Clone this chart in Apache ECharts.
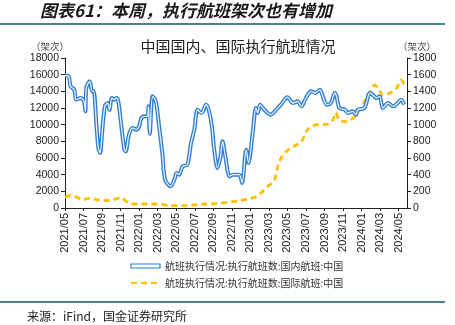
<!DOCTYPE html>
<html>
<head>
<meta charset="utf-8">
<script src="https://cdn.jsdelivr.net/npm/echarts@6/dist/echarts.min.js"></script>
<style>
html,body{margin:0;padding:0;background:#fff;}
#c{width:455px;height:325px;}
</style>
</head>
<body>
<div id="c"></div>
<script>
// months since 2021/05 (x positions) and values
var startYear = 2021, startMonth = 5;
var domesticMonths = [0,0.4,0.6,1.0,1.2,1.7,2.05,2.2,2.3,2.65,2.95,3.1,3.4,3.6,3.8,4.0,4.3,4.6,4.8,5.05,5.3,5.55,5.75,6.0,6.4,6.55,6.9,7.3,7.7,8.0,8.25,8.65,8.9,9.0,9.15,9.45,9.8,10.15,10.5,10.8,11.4,11.8,12.05,12.3,12.7,13.2,13.6,13.95,14.3,14.7,14.9,15.2,15.5,15.85,16.1,16.45,16.75,17.0,17.3,17.75,18.1,18.8,19.1,19.55,19.8,20.25,20.6,20.8,21.05,21.5,22.2,22.8,23.3,24.0,24.6,25.1,25.5,26.0,26.55,27.0,27.5,27.75,28.25,28.7,29.1,29.3,29.6,30.2,30.5,31.05,31.4,31.6,32.3,32.9,33.2,33.6,33.95,34.3,34.85,35.4,35.9,36.25,36.6];
var domesticValues = [15900,15800,14600,14200,13000,13200,12800,11600,14400,15200,14000,14000,9800,7200,6600,9000,12200,12600,11800,13200,13000,13200,12800,10600,7000,6800,8800,9600,9400,9800,10800,11000,11000,12200,8900,13400,12800,9800,6600,3400,2600,3400,4200,4000,5000,5200,7800,9400,11800,11400,11600,12400,11800,9800,7000,4800,6000,8000,6200,3800,4000,4000,3000,7000,5400,9000,12000,11400,12400,11800,11200,11800,12400,13300,12600,12800,12200,13200,14000,13800,14200,13600,12400,12600,13800,13400,12000,11800,11400,11600,11200,11800,12000,13800,13600,13200,13400,12000,12600,12200,12600,13000,12400];
var intlMonths = [0,0.6,1.15,1.9,2.6,3.3,4.0,5.1,6.0,6.9,7.6,9.1,10.15,11.25,12.7,13.8,15.2,16.6,18.1,18.8,19.55,20.6,21.3,22.05,22.6,22.95,23.3,23.85,24.6,25.5,26.0,26.55,27.5,28.25,28.9,29.2,29.6,30.35,31.05,31.8,32.5,33.05,33.4,33.9,34.3,35.0,35.7,36.25,36.7];
var intlValues = [130,150,136,100,116,104,90,96,124,56,48,48,48,28,28,36,48,56,76,88,104,136,196,276,336,496,596,676,736,796,916,976,1004,1004,1056,1144,1056,1036,1076,1176,1316,1416,1476,1416,1356,1376,1424,1536,1464];
var leftTicks = {min:0, max:18000, interval:2000};
var rightTicks = {min:0, max:1800, interval:200};
var seriesNames = ['航班执行情况:执行航班数:国内航班:中国','航班执行情况:执行航班数:国际航班:中国'];

function zip(xs, ys){ return xs.map(function(x,i){ return [x, ys[i]]; }); }
function monthLabel(v){
  var m = Math.round(v);
  if (Math.abs(v - m) > 1e-6) return '';
  var total = startMonth - 1 + m;
  var y = startYear + Math.floor(total/12);
  var mo = total % 12 + 1;
  return y + '/' + (mo < 10 ? '0' + mo : mo);
}
function plain(v){ return String(v); }
var numFont = 'Liberation Sans, Arial, sans-serif';
var cjkFont = 'Noto Sans CJK SC, sans-serif';
var chart = echarts.init(document.getElementById('c'), null, {renderer:'canvas'});
chart.setOption({
  animation:false,
  backgroundColor:'#fff',
  graphic:[
    {type:'text', left:40, top:2, style:{text:'图表61：本周，执行航班架次也有增加', font:'italic bold 17px Noto Sans CJK SC', fill:'#1a1a1a'}},
    {type:'rect', shape:{x:0,y:23,width:445,height:2}, style:{fill:'#4d7f99'}},
    {type:'text', x:238, y:46, style:{text:'中国国内、国际执行航班情况', font:'15px Noto Sans CJK SC', fill:'#222', align:'center', verticalAlign:'middle'}},
    {type:'text', x:50, y:46, style:{text:'（架次）', font:'9.5px Noto Sans CJK SC', fill:'#444', align:'center', verticalAlign:'middle'}},
    {type:'text', x:417, y:46, style:{text:'（架次）', font:'9.5px Noto Sans CJK SC', fill:'#444', align:'center', verticalAlign:'middle'}},
    {type:'rect', shape:{x:0,y:301,width:445,height:2}, style:{fill:'#4d7f99'}},
    {type:'text', x:27, y:316, style:{text:'来源：iFind，国金证券研究所', font:'12px Noto Sans CJK SC', fill:'#222', verticalAlign:'middle'}}
  ],
  grid:{left:65, right:48, top:58, bottom:117, containLabel:false},
  legend:{
    orient:'vertical', left:125, top:256, itemGap:7, itemWidth:29, itemHeight:4,
    textStyle:{fontSize:10, color:'#333', fontFamily:cjkFont},
    data:[
      {name:seriesNames[0], icon:'rect', itemStyle:{color:'#ffffff', borderColor:'#2f7fd0', borderWidth:1.2}},
      {name:seriesNames[1]}
    ]
  },
  xAxis:{
    type:'value', min:0, max:36.9, interval:2,
    axisLine:{lineStyle:{color:'#222', width:1}},
    axisTick:{show:true, length:3, lineStyle:{color:'#222'}},
    splitLine:{show:false},
    axisLabel:{rotate:90, fontSize:11, color:'#222', fontFamily:numFont, margin:5, showMaxLabel:false, formatter:monthLabel}
  },
  yAxis:[
    {type:'value', min:leftTicks.min, max:leftTicks.max, interval:leftTicks.interval,
     axisLine:{show:true, lineStyle:{color:'#222'}}, axisTick:{show:true, length:4, lineStyle:{color:'#222'}},
     splitLine:{show:false}, axisLabel:{fontSize:10.5, color:'#222', fontFamily:numFont, margin:6, formatter:plain}},
    {type:'value', position:'right', min:rightTicks.min, max:rightTicks.max, interval:rightTicks.interval,
     axisLine:{show:true, lineStyle:{color:'#222'}}, axisTick:{show:true, length:4, lineStyle:{color:'#222'}},
     splitLine:{show:false}, axisLabel:{fontSize:10.5, color:'#222', fontFamily:numFont, margin:6, formatter:plain}}
  ],
  series:[
    {name:seriesNames[0], type:'line', yAxisIndex:0, data:zip(domesticMonths, domesticValues), smooth:0.3, symbol:'none',
     lineStyle:{color:'#2f7fd0', width:4}, itemStyle:{color:'#2f7fd0'}, z:3},
    {name:'inner', type:'line', yAxisIndex:0, data:zip(domesticMonths, domesticValues), smooth:0.3, symbol:'none',
     lineStyle:{color:'#e6f0fa', width:1.3}, itemStyle:{color:'#e6f0fa'}, z:4, silent:true},
    {name:seriesNames[1], type:'line', yAxisIndex:1, data:zip(intlMonths, intlValues), smooth:0.3, symbol:'none',
     lineStyle:{color:'#ffc000', width:2.8, type:[6,4]}, itemStyle:{color:'#ffc000'}, z:2}
  ]
});
</script>
</body>
</html>
